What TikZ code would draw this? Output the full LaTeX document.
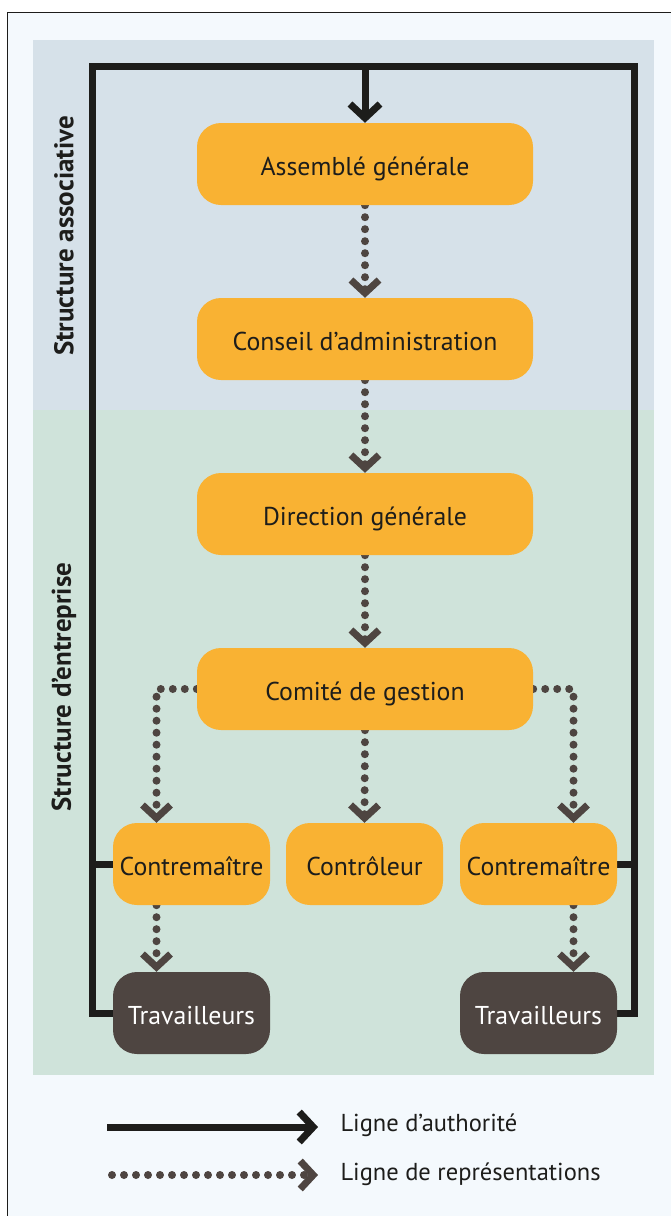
\documentclass[tikz,border=0pt]{standalone}
\usepackage{fontspec}
\setmainfont{PT Sans}
\usetikzlibrary{arrows.meta}
\definecolor{frameblk}{HTML}{1D1D1B}
\definecolor{orangebox}{HTML}{F9B233}
\definecolor{darkbox}{HTML}{4E4541}
\definecolor{bluepanel}{HTML}{D6E1E9}
\definecolor{greenpanel}{HTML}{CFE3DA}
\definecolor{pagebg}{HTML}{F4F9FD}
\pgfdeclarelayer{bg}\pgfdeclarelayer{edges}\pgfsetlayers{bg,edges,main}
\begin{document}
\begin{tikzpicture}[x=1pt,y=-1pt,
 box/.style={rectangle, rounded corners=24pt, fill=orangebox, text=frameblk, inner sep=0pt, font=\fontsize{25.8}{30}\selectfont, text height=24pt, text depth=2pt},
 bigbox/.style={box, minimum width=336pt, minimum height=82pt},
 smallbox/.style={box, minimum width=157pt, minimum height=82pt},
 workbox/.style={smallbox, fill=darkbox, text=white},
 auth/.style={draw=frameblk, line width=7pt, line join=miter},
 authtip/.style={auth, -{Straight Barb[length=14pt,width=30pt]}},
 repr/.style={draw=darkbox, line width=8pt, line cap=round, dash pattern=on 0pt off 12pt, -{Straight Barb[length=13pt,width=28pt,line width=7pt]}},
 sidelabel/.style={rotate=90, text=frameblk, font=\fontsize{27}{32}\selectfont\bfseries},
 legendtext/.style={anchor=west, text=frameblk, font=\fontsize{24.5}{29}\selectfont},
]
\useasboundingbox (0,0) rectangle (670,1216);
\begin{pgfonlayer}{bg}
  \fill[white] (0,0) rectangle (670,1216);
  \filldraw[fill=pagebg, draw=frameblk, line width=1pt] (7.5,12.5) rectangle (680,1230);
  \fill[bluepanel] (33,40) rectangle (654,410);
  \fill[greenpanel] (33,410) rectangle (654,1075);
\end{pgfonlayer}

\node[sidelabel] (sa) at (64,236) {Structure associative};
\node[sidelabel] (se) at (64,687) {Structure d’entreprise};

\node[bigbox] (asm) at (365,164) {Assemblé générale};
\node[bigbox] (cda) at (365,339) {Conseil d’administration};
\node[bigbox] (dg)  at (365,514) {Direction générale};
\node[bigbox] (com) at (365,689) {Comité de gestion};
\node[smallbox] (ctl) at (191.5,864) {Contremaître};
\node[smallbox] (ctr) at (364.5,864) {Contrôleur};
\node[smallbox] (crt) at (538.5,864) {Contremaître};
\node[workbox] (twl) at (191.5,1013) {Travailleurs};
\node[workbox] (twr) at (538.5,1013) {Travailleurs};

\coordinate (tl) at (92,66);
\coordinate (tr) at (634,66);

\begin{pgfonlayer}{edges}
  \draw[auth] (twl.west) -| (tl) -- (tr) |- (twr.east);
  \draw[auth] (ctl.west) -- (ctl.west -| tl);
  \draw[auth] (crt.east) -- (crt.east -| tr);
  \draw[authtip] (asm.north |- tl) -- (asm.north);

  \draw[repr] (asm.south) -- (cda.north);
  \draw[repr] (cda.south) -- (dg.north);
  \draw[repr] (dg.south) -- (com.north);
  \draw[repr] (com.south) -- (ctr.north);
  \draw[repr] (com.west) -| ([xshift=-35pt]ctl.north);
  \draw[repr] (com.east) -| ([xshift=35pt]crt.north);
  \draw[repr] ([xshift=-35pt]ctl.south) -- ([xshift=-35pt]twl.north);
  \draw[repr] ([xshift=35pt]crt.south) -- ([xshift=35pt]twr.north);
\end{pgfonlayer}

\coordinate (la1) at (107,1127);
\coordinate (la2) at (318,1127);
\coordinate (lr1) at (112,1175);
\coordinate (lr2) at (318,1175);
\node[legendtext] (lat) at (337,1125) {Ligne d’authorité};
\node[legendtext] (lrt) at (337,1174) {Ligne de représentations};
\draw[authtip] (la1) -- (la2);
\draw[repr] (lr1) -- (lr2);
\end{tikzpicture}
\end{document}
